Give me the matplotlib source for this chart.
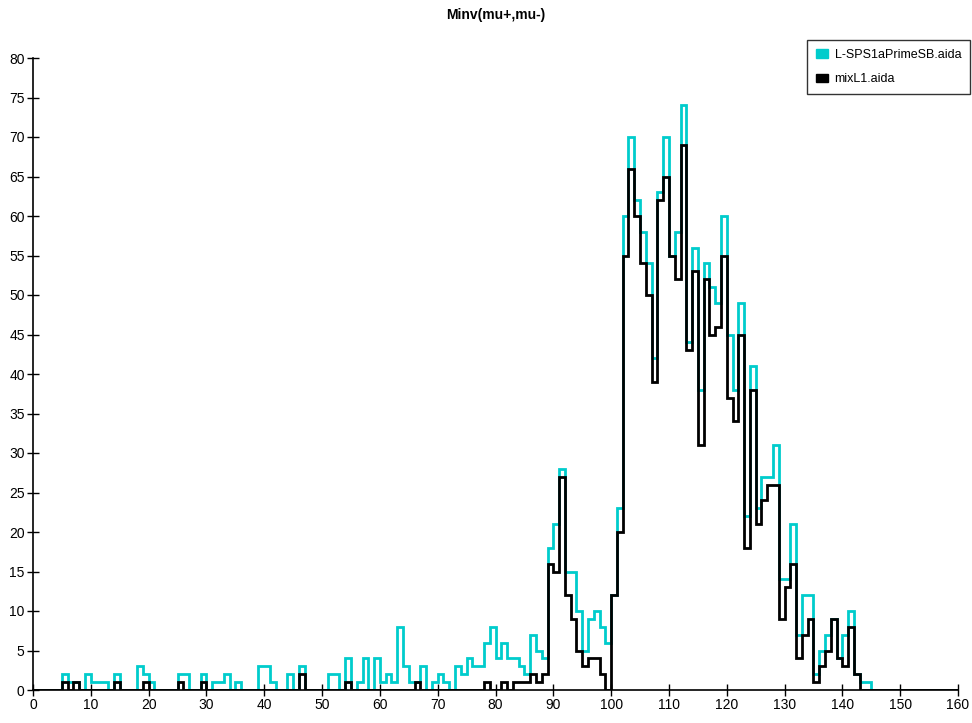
import numpy as np
import matplotlib
matplotlib.use("Agg")
import matplotlib.pyplot as plt
from matplotlib.patches import Patch

plt.rcParams["font.family"] = ["Liberation Sans", "DejaVu Sans"]

# ---------------------------------
# Data: counts per 1-unit bin, 0..160
# ---------------------------------
bin_edges = np.arange(0, 161, 1)

counts_sps1a = [
    0, 0, 0, 0, 0, 2, 1, 1, 0, 2,
    1, 1, 1, 0, 2, 0, 0, 0, 3, 2,
    1, 0, 0, 0, 0, 2, 2, 0, 0, 2,
    0, 1, 1, 2, 0, 1, 0, 0, 0, 3,
    3, 1, 0, 0, 2, 0, 3, 0, 0, 0,
    0, 2, 2, 0, 4, 0, 1, 4, 0, 4,
    1, 2, 1, 8, 3, 1, 1, 3, 0, 1,
    2, 1, 0, 3, 2, 4, 3, 3, 6, 8,
    4, 6, 4, 4, 3, 2, 7, 5, 4, 18,
    21, 28, 15, 15, 10, 5, 9, 10, 8, 6,
    12, 23, 60, 70, 62, 58, 54, 42, 63, 70,
    55, 58, 74, 44, 56, 38, 54, 51, 49, 60,
    45, 38, 49, 22, 41, 23, 27, 27, 31, 14,
    14, 21, 7, 12, 12, 2, 5, 7, 9, 4,
    7, 10, 2, 1, 1, 0, 0, 0, 0, 0,
    0, 0, 0, 0, 0, 0, 0, 0, 0, 0,
]

counts_mixl1 = [
    0, 0, 0, 0, 0, 1, 0, 1, 0, 0,
    0, 0, 0, 0, 1, 0, 0, 0, 0, 1,
    0, 0, 0, 0, 0, 1, 0, 0, 0, 1,
    0, 0, 0, 0, 0, 0, 0, 0, 0, 0,
    0, 0, 0, 0, 0, 0, 2, 0, 0, 0,
    0, 0, 0, 0, 1, 0, 0, 0, 0, 0,
    0, 0, 0, 0, 0, 0, 1, 0, 0, 0,
    0, 0, 0, 0, 0, 0, 0, 0, 1, 0,
    0, 1, 0, 1, 1, 1, 2, 1, 2, 16,
    15, 27, 12, 9, 5, 3, 4, 4, 2, 0,
    12, 20, 55, 66, 60, 54, 50, 39, 62, 65,
    55, 52, 69, 43, 53, 31, 52, 45, 46, 55,
    37, 34, 45, 18, 38, 21, 24, 26, 26, 9,
    13, 16, 4, 7, 9, 1, 3, 5, 9, 4,
    3, 8, 2, 0, 0, 0, 0, 0, 0, 0,
    0, 0, 0, 0, 0, 0, 0, 0, 0, 0,
]

labels = ["L-SPS1aPrimeSB.aida", "mixL1.aida"]
colors = ["#00CCCC", "black"]

# ---------------------------------
# Figure
# ---------------------------------
fig = plt.figure(figsize=(9.72, 7.23), dpi=100)
ax = fig.add_axes([33 / 972, 33 / 723, 925 / 972, 632 / 723])

ax.stairs(counts_sps1a, bin_edges, color=colors[0], linewidth=2, baseline=0)
ax.stairs(counts_mixl1, bin_edges, color=colors[1], linewidth=2, baseline=0)

ax.set_xlim(0, 160)
ax.set_ylim(0, 80)
ax.set_xticks(np.arange(0, 161, 10))
ax.set_yticks(np.arange(0, 81, 5))

for s in ["top", "right"]:
    ax.spines[s].set_visible(False)
for s in ["left", "bottom"]:
    ax.spines[s].set_linewidth(1.2)

ax.tick_params(direction="inout", length=8, width=1, labelsize=10, pad=2)
ax.set_title("Minv(mu+,mu-)", fontsize=10, fontweight="bold", y=1.0, pad=28)

handles = [Patch(facecolor=c, edgecolor=c) for c in colors]
fig.legend(
    handles, labels,
    loc="upper right",
    bbox_to_anchor=(970 / 972, 1 - 40 / 723),
    borderaxespad=0,
    fontsize=9,
    frameon=True,
    fancybox=False,
    edgecolor="black",
    handlelength=1.0,
    handleheight=0.7,
    handletextpad=0.5,
    borderpad=0.7,
    labelspacing=1.0,
)

fig.savefig("out.png", dpi=100)
